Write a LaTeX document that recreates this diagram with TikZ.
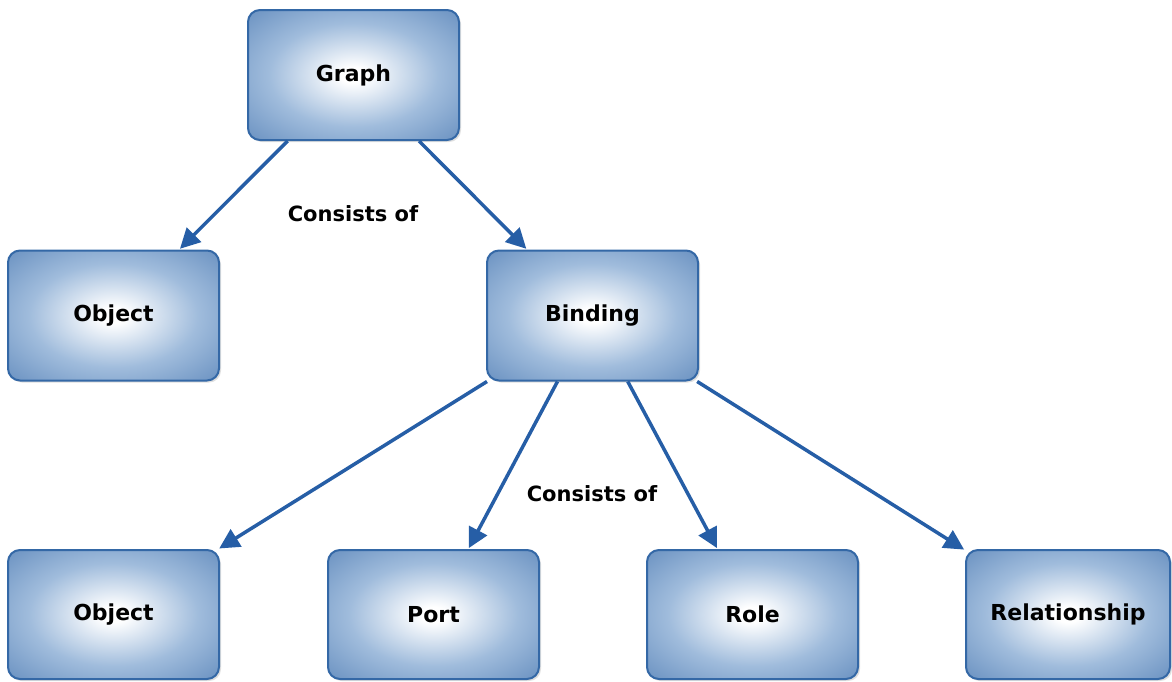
\documentclass[tikz,border=0pt]{standalone}
\usepackage{fontspec}
\setmainfont{DejaVu Sans}
\usetikzlibrary{arrows.meta,shadows}
\definecolor{boxedge}{RGB}{52,104,166}
\definecolor{boxmid}{RGB}{160,188,220}
\definecolor{boxout}{RGB}{84,128,182}
\definecolor{boxcorner}{RGB}{66,110,168}
\definecolor{arrowc}{RGB}{38,94,166}
\pgfdeclareradialshading{boxshade}{\pgfpoint{0bp}{0bp}}{%
  color(0bp)=(white); color(3bp)=(white); color(20bp)=(boxmid);
  color(42bp)=(boxout); color(60bp)=(boxcorner)}
\tikzset{
  boxnode/.style={draw=boxedge, line width=2pt, rounded corners=12pt,
    shading=boxshade, minimum width=211pt, minimum height=130pt,
    inner sep=0pt, font=\bfseries\fontsize{22}{26}\selectfont,
    drop shadow={shadow xshift=2pt, shadow yshift=-2pt, fill=black!25, opacity=0.5}},
  conn/.style={draw=arrowc, line width=3.5pt,
    -{Triangle[length=20pt,width=20pt]}, shorten >=1pt},
  lbl/.style={font=\bfseries\fontsize{21}{24}\selectfont, inner sep=0pt}
}
\begin{document}
\begin{tikzpicture}[x=1pt,y=-1pt]
\useasboundingbox (0,0) rectangle (1172,681);
\node[boxnode] (graph) at (353.5,75) {Graph};
\node[boxnode] (obja) at (113.5,315.5) {Object};
\node[boxnode] (binding) at (592.5,315.5) {Binding};
\node[boxnode, minimum height=129pt] (objb) at (113.5,614.5) {Object};
\node[boxnode, minimum height=129pt] (port) at (433.5,614.5) {Port};
\node[boxnode, minimum height=129pt] (role) at (752.5,614.5) {Role};
\node[boxnode, minimum height=129pt, minimum width=204pt] (rel) at (1068,614.5) {Relationship};
\draw[conn] (graph) -- (obja);
\draw[conn] (graph) -- (binding);
\draw[conn] (binding) -- (objb);
\draw[conn] (binding) -- (port);
\draw[conn] (binding) -- (role);
\draw[conn] (binding) -- (rel);
\node[lbl] (c1) at (353,214) {Consists of};
\node[lbl] (c2) at (592,494) {Consists of};
\end{tikzpicture}
\end{document}
